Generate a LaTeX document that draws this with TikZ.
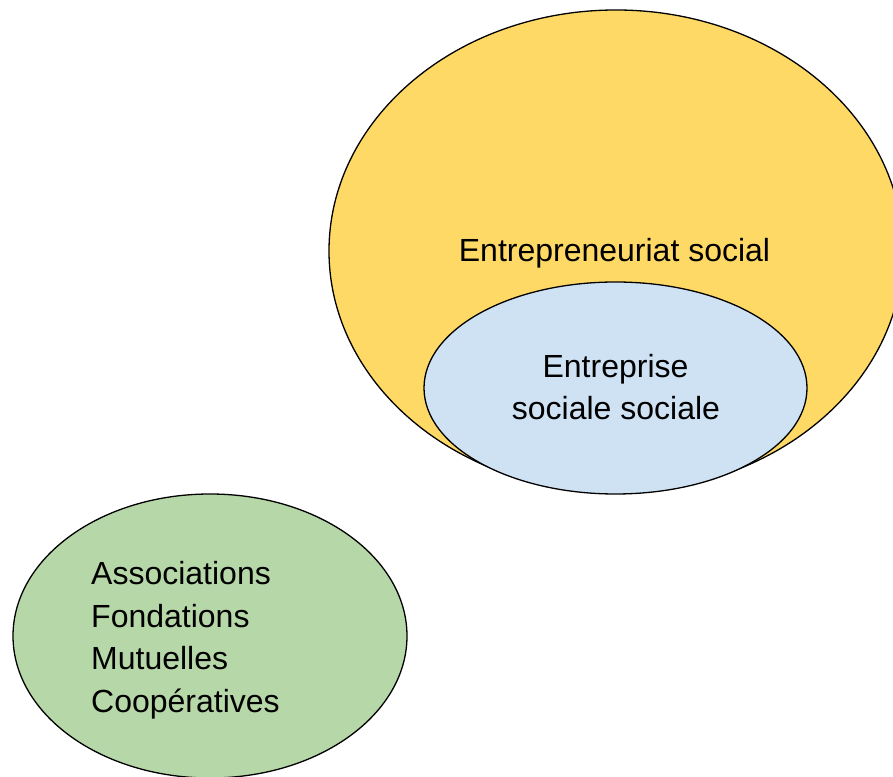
\documentclass[tikz,border=0pt]{standalone}
\usepackage{fontspec}
\setmainfont{Liberation Sans}
\definecolor{sunYellow}{HTML}{FFD966}
\definecolor{paleBlue}{HTML}{CFE2F3}
\definecolor{sageGreen}{HTML}{B6D7A8}
\begin{document}
\begin{tikzpicture}[x=1pt,y=1pt,
  blob/.style={draw=black,line width=1.3pt},
  label/.style={inner sep=0pt,font=\fontsize{32}{42.5}\selectfont}]
\useasboundingbox (0,0) rectangle (893,776);
\clip (0,0) rectangle (893,776);
% outer set and the subset nested in it
\draw[blob,fill=sunYellow] (616,525) ellipse [x radius=287,y radius=241];
\draw[blob,fill=paleBlue] (615.5,388) ellipse [x radius=191.5,y radius=106];
% separate group at lower left
\draw[blob,fill=sageGreen] (210,140) ellipse [x radius=197,y radius=142];
\node[label,anchor=base] (outer) at (614.5,514) {Entrepreneuriat social};
\node[label,anchor=base] (inner1) at (615.5,398.5) {Entreprise};
\node[label,anchor=base] (inner2) at (616,356.5) {sociale sociale};
\node[label,anchor=base west] (g1) at (91,191.5) {Associations};
\node[label,anchor=base west] (g2) at (91,149) {Fondations};
\node[label,anchor=base west] (g3) at (91,106.5) {Mutuelles};
\node[label,anchor=base west] (g4) at (91,64) {Coopératives};
\end{tikzpicture}
\end{document}
